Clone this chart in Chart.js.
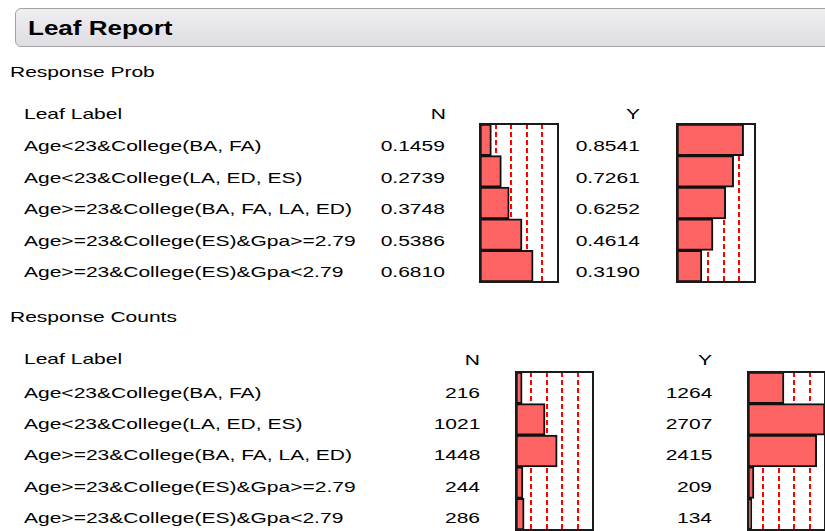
<!DOCTYPE html>
<html>
<head>
<meta charset="utf-8">
<script src="https://cdn.jsdelivr.net/npm/chart.js@4"></script>
<style>
  body { margin: 0; width: 825px; height: 531px; background: #fff; position: relative; overflow: hidden;
         font-family: "Liberation Sans", Arial, sans-serif; font-size: 15px; color: #000; }
  .t { position: absolute; white-space: nowrap; line-height: 1; transform-origin: left center;
       transform: translateY(-50%) scaleX(1.4); }
  .r { transform-origin: right center; }
  .bar { position: absolute; left: 15px; top: 8px; width: 830px; height: 39px; box-sizing: border-box;
         border: 1px solid #a4a4a8; border-radius: 6px; background: linear-gradient(#efeff2, #dedee3); }
  .title { font-weight: bold; font-size: 20px; transform: translateY(-50%) scaleX(1.3); }
  canvas { position: absolute; }
</style>
</head>
<body>
<div class="bar"></div>
<div id="texts"></div>
<canvas id="probN"></canvas>
<canvas id="probY"></canvas>
<canvas id="countN"></canvas>
<canvas id="countY"></canvas>
<script>
'use strict';

const leafLabels = [
  'Age<23&College(BA, FA)',
  'Age<23&College(LA, ED, ES)',
  'Age>=23&College(BA, FA, LA, ED)',
  'Age>=23&College(ES)&Gpa>=2.79',
  'Age>=23&College(ES)&Gpa<2.79'
];
const probN = [0.1459, 0.2739, 0.3748, 0.5386, 0.6810];
const probY = [0.8541, 0.7261, 0.6252, 0.4614, 0.3190];
const countN = [216, 1021, 1448, 244, 286];
const countY = [1264, 2707, 2415, 209, 134];
const refFractions = [0.2, 0.4, 0.6, 0.8];

const texts = document.getElementById('texts');

function addText(str, x, y, right, cls) {
  const d = document.createElement('div');
  d.className = 't' + (right ? ' r' : '') + (cls ? ' ' + cls : '');
  d.textContent = str;
  d.style.top = y + 'px';
  if (right) d.style.right = (825 - x) + 'px';
  else d.style.left = x + 'px';
  texts.appendChild(d);
}

addText('Leaf Report', 28, 28, false, 'title');

// response prob section
addText('Response Prob', 10, 71);
addText('Leaf Label', 24, 113);
addText('N', 446, 113, true);
addText('Y', 640, 113, true);
leafLabels.forEach((lbl, i) => {
  const y = 145 + i * 31.6;
  addText(lbl, 24, y);
  addText(probN[i].toFixed(4), 445, y, true);
  addText(probY[i].toFixed(4), 640, y, true);
});

// response counts section
addText('Response Counts', 10, 316);
addText('Leaf Label', 24, 358);
addText('N', 480, 359, true);
addText('Y', 712, 359, true);
leafLabels.forEach((lbl, i) => {
  const y = 391.5 + i * 31.4;
  addText(lbl, 24, y);
  addText(String(countN[i]), 480, y, true);
  addText(String(countY[i]), 712, y, true);
});

const refLinesPlugin = {
  id: 'refLines',
  beforeDatasetsDraw(chart) {
    const { ctx, chartArea, scales } = chart;
    const max = scales.x.max;
    ctx.save();
    ctx.strokeStyle = '#ff0000';
    ctx.lineWidth = 2;
    ctx.setLineDash([5, 3]);
    refFractions.forEach((f) => {
      const x = Math.round(scales.x.getPixelForValue(f * max));
      ctx.beginPath();
      ctx.moveTo(x, chartArea.top);
      ctx.lineTo(x, chartArea.bottom);
      ctx.stroke();
    });
    ctx.restore();
  },
  afterDraw(chart) {
    const { ctx, chartArea } = chart;
    ctx.save();
    ctx.strokeStyle = '#1a1a1a';
    ctx.lineWidth = 2;
    ctx.strokeRect(chartArea.left, chartArea.top, chartArea.right - chartArea.left, chartArea.bottom - chartArea.top);
    ctx.restore();
  }
};

function makeBox(id, left, top, w, h, values, max) {
  const cv = document.getElementById(id);
  cv.width = w + 4;
  cv.height = h + 4;
  cv.style.left = (left - 2) + 'px';
  cv.style.top = (top - 2) + 'px';
  cv.style.width = (w + 4) + 'px';
  cv.style.height = (h + 4) + 'px';
  return new Chart(cv.getContext('2d'), {
    type: 'bar',
    data: {
      labels: leafLabels,
      datasets: [{
        data: values,
        backgroundColor: '#ff6464',
        borderColor: '#111',
        borderWidth: 2,
        borderSkipped: false,
        categoryPercentage: 1,
        barPercentage: 1
      }]
    },
    options: {
      indexAxis: 'y',
      responsive: false,
      animation: false,
      layout: { padding: 2 },
      plugins: { legend: { display: false }, tooltip: { enabled: false } },
      scales: {
        x: { type: 'linear', min: 0, max: max, display: false },
        y: { display: false }
      }
    },
    plugins: [refLinesPlugin]
  });
}

const countMax = Math.max(...countN, ...countY);
makeBox('probN', 480, 124, 78, 158, probN, 1);
makeBox('probY', 677, 124, 78, 158, probY, 1);
makeBox('countN', 516, 372, 77, 158, countN, countMax);
makeBox('countY', 748, 372, 77, 158, countY, countMax);
</script>
</body>
</html>
